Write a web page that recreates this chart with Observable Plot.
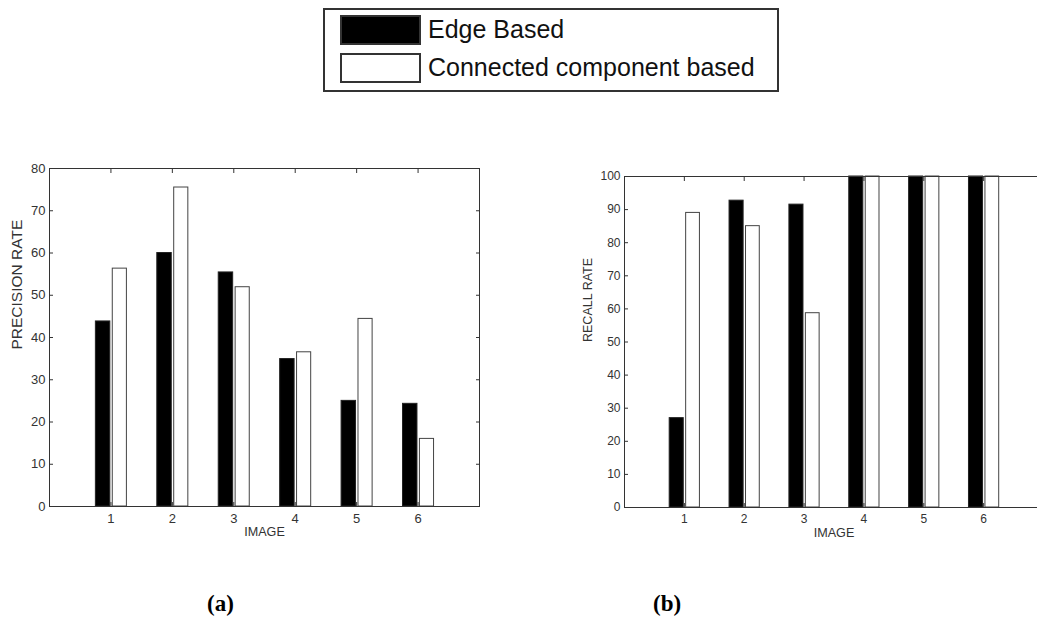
<!DOCTYPE html>
<html>
<head>
<meta charset="utf-8">
<script src="https://cdn.jsdelivr.net/npm/d3@7"></script>
<script src="https://cdn.jsdelivr.net/npm/@observablehq/plot@0.6"></script>
<style>
  html, body { margin: 0; padding: 0; background: #fff; overflow: hidden; }
  #page { position: relative; width: 1037px; height: 627px; overflow: hidden; background: #fff; }
  #legend { position: absolute; left: 323px; top: 8px; width: 452px; height: 80px; border: 2px solid #333; background: #fff;
            font-family: "Liberation Sans", Arial, sans-serif; font-size: 25px; color: #111; }
  .sw { position: absolute; left: 15px; width: 81px; height: 30px; box-sizing: border-box; }
  .lt { position: absolute; left: 103px; line-height: 30px; white-space: nowrap; }
  .chart { position: absolute; }
  .chart svg { max-width: none !important; }
  .cap { position: absolute; font-family: "Liberation Serif", "Times New Roman", serif; font-weight: bold; font-size: 23px; color: #000; }
</style>
</head>
<body>
<div id="page">
  <div id="legend"></div>
  <div id="chartA" class="chart" style="left:0px; top:140px; width:500px;"></div>
  <div id="chartB" class="chart" style="left:560px; top:140px; width:490px;"></div>
  <div class="cap" style="left:207px; top:591px;">(a)</div>
  <div class="cap" style="left:653px; top:591px;">(b)</div>
</div>
<script>
// ---- data ----
const images = [1, 2, 3, 4, 5, 6];
const seriesNames = ["Edge Based", "Connected component based"];
const precisionEdge = [43.8, 60, 55.4, 34.9, 25, 24.3];
const precisionConn = [56.3, 75.5, 51.9, 36.5, 44.4, 16];
const recallEdge = [27, 92.7, 91.5, 100, 100, 100];
const recallConn = [89, 85, 58.7, 100, 100, 100];
const xTicks = [1, 2, 3, 4, 5, 6];
const yTicksA = [0, 10, 20, 30, 40, 50, 60, 70, 80];
const yTicksB = [0, 10, 20, 30, 40, 50, 60, 70, 80, 90, 100];

// ---- legend ----
const legend = document.getElementById("legend");
seriesNames.forEach((name, i) => {
  const sw = document.createElement("div");
  sw.className = "sw";
  sw.style.top = (i === 0 ? 5 : 43) + "px";
  sw.style.background = i === 0 ? "#000" : "#fff";
  sw.style.border = "2px solid #333";
  legend.appendChild(sw);
  const t = document.createElement("div");
  t.className = "lt";
  t.style.top = (i === 0 ? 4 : 42) + "px";
  t.textContent = name;
  legend.appendChild(t);
});

function long(edge, conn) {
  const rows = [];
  images.forEach((im, i) => {
    rows.push({image: im, series: seriesNames[0], value: edge[i]});
    rows.push({image: im, series: seriesNames[1], value: conn[i]});
  });
  return rows;
}

const off = {[seriesNames[0]]: [-0.245, -0.01], [seriesNames[1]]: [0.03, 0.26]};

function chart({data, yMax, yTicks, ylabel, width, height, ml, mr, mt, mb, tickFont, labelFont, yLabelFont, ydx, ydy}) {
  const frameColor = "#333";
  return Plot.plot({
    width, height,
    marginLeft: ml, marginRight: mr, marginTop: mt, marginBottom: mb,
    style: {fontFamily: "'Liberation Sans', Arial, sans-serif", color: "#333", background: "transparent", maxWidth: "none"},
    x: {domain: [0, 7], axis: null},
    y: {domain: [0, yMax], axis: null},
    marks: [
      Plot.rectY(data, {
        x1: d => d.image + off[d.series][0],
        x2: d => d.image + off[d.series][1],
        y1: 0, y2: "value",
        fill: d => d.series === seriesNames[0] ? "#000" : "#fff",
        stroke: d => d.series === seriesNames[0] ? "#222" : "#444",
        strokeWidth: 1
      }),
      Plot.frame({stroke: frameColor, strokeWidth: 1}),
      // inward tick marks on all four sides
      Plot.axisX({anchor: "bottom", ticks: xTicks, tickSize: -4, tickFormat: () => "", label: null, stroke: frameColor}),
      Plot.axisX({anchor: "top", ticks: xTicks, tickSize: -4, tickFormat: () => "", label: null, stroke: frameColor}),
      Plot.axisY({anchor: "left", ticks: yTicks, tickSize: -4, tickFormat: () => "", label: null, stroke: frameColor}),
      Plot.axisY({anchor: "right", ticks: yTicks, tickSize: -4, tickFormat: () => "", label: null, stroke: frameColor}),
      // tick labels
      Plot.axisX({anchor: "bottom", ticks: xTicks, tickSize: 0, tickPadding: 7, tickFormat: d3.format("d"), label: null, fontSize: tickFont, fill: "#333"}),
      Plot.axisY({anchor: "left", ticks: yTicks, tickSize: 0, tickPadding: 4, tickFormat: d3.format("d"), label: null, fontSize: tickFont, fill: "#333"}),
      // axis titles
      Plot.text(["IMAGE"], {frameAnchor: "bottom", dy: 29, fontSize: labelFont, fill: "#333"}),
      Plot.text([ylabel], {frameAnchor: "left", rotate: -90, dx: ydx, dy: ydy, fontSize: yLabelFont, fill: "#333"})
    ]
  });
}

document.getElementById("chartA").appendChild(chart({
  data: long(precisionEdge, precisionConn), yMax: 80, yTicks: yTicksA, ylabel: "PRECISION RATE",
  width: 500, height: 400, ml: 49, mr: 21, mt: 28, mb: 34,
  tickFont: 13, labelFont: 12.6, yLabelFont: 15.5, ydx: -32, ydy: 12
}));

document.getElementById("chartB").appendChild(chart({
  data: long(recallEdge, recallConn), yMax: 100, yTicks: yTicksB, ylabel: "RECALL RATE",
  width: 490, height: 400, ml: 64, mr: 7, mt: 36, mb: 33,
  tickFont: 12, labelFont: 12.6, yLabelFont: 12.5, ydx: -37, ydy: 0
}));
</script>
</body>
</html>
